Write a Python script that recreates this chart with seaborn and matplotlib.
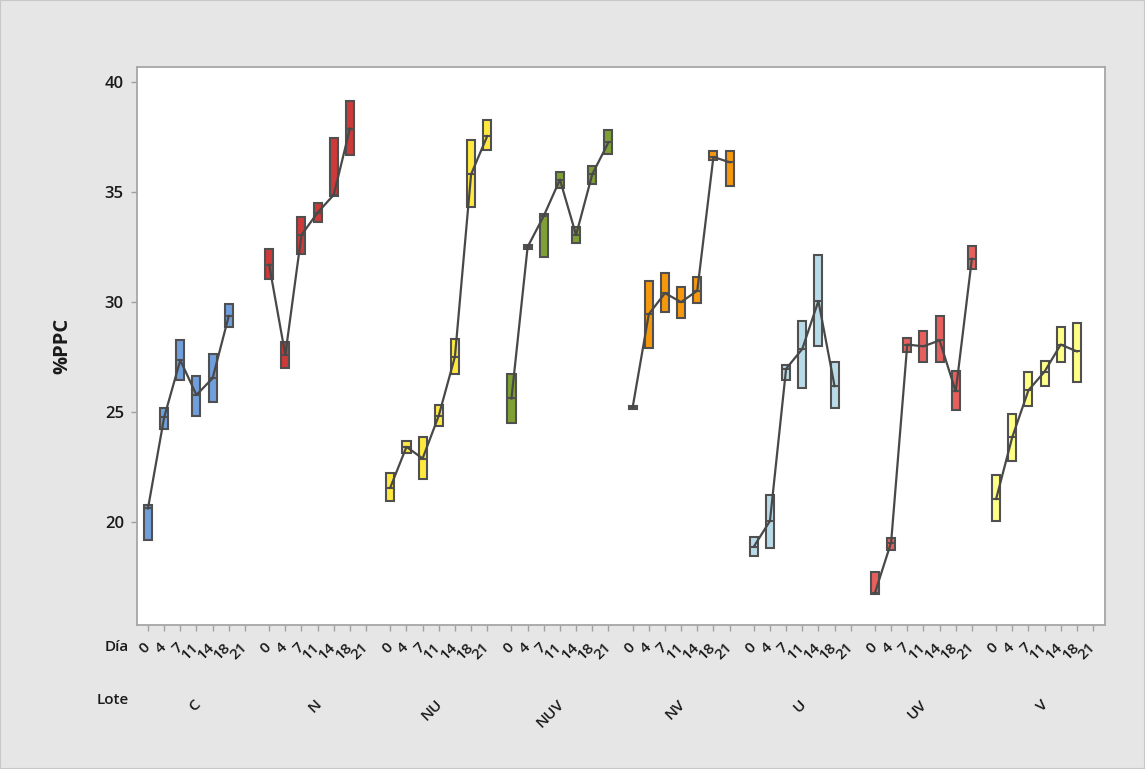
import matplotlib
matplotlib.use("Agg")
import matplotlib.pyplot as plt
import matplotlib.transforms as mtransforms
from matplotlib import font_manager
from matplotlib.patches import Rectangle
import pandas as pd
import seaborn as sns

# ---- data -------------------------------------------------------------
lotes = ["C", "N", "NU", "NUV", "NV", "U", "UV", "V"]
dias = [0, 4, 7, 11, 14, 18, 21]

# box bottom (Q1), median and box top (Q3) of %PPC for each day sampled
c_q1 = [19.16, 24.22, 26.44, 24.82, 25.45, 28.87]
c_med = [20.60, 24.74, 27.34, 25.76, 26.52, 29.35]
c_q3 = [20.76, 25.18, 28.24, 26.60, 27.61, 29.90]

n_q1 = [31.02, 26.98, 32.19, 33.63, 34.81, 36.69]
n_med = [31.68, 27.58, 33.03, 34.05, 34.86, 37.87]
n_q3 = [32.40, 28.18, 33.85, 34.48, 37.45, 39.14]

nu_q1 = [20.95, 23.11, 21.94, 24.37, 26.71, 34.29, 36.89]
nu_med = [21.55, 23.40, 22.87, 24.82, 27.50, 35.79, 37.53]
nu_q3 = [22.21, 23.66, 23.84, 25.29, 28.32, 37.34, 38.24]

nuv_q1 = [24.47, 32.41, 32.03, 35.19, 32.66, 35.36, 36.71]
nuv_med = [25.60, 32.49, 33.90, 35.55, 33.03, 35.79, 37.24]
nuv_q3 = [26.71, 32.57, 33.97, 35.90, 33.39, 36.18, 37.81]

nv_q1 = [25.10, 27.89, 29.51, 29.24, 29.95, 36.45, 35.27]
nv_med = [25.19, 29.43, 30.39, 29.98, 30.50, 36.58, 36.34]
nv_q3 = [25.27, 30.93, 31.29, 30.66, 31.13, 36.86, 36.86]

u_q1 = [18.42, 18.80, 26.44, 26.08, 27.97, 25.18]
u_med = [18.86, 20.03, 26.95, 27.85, 30.03, 26.16]
u_q3 = [19.32, 21.22, 27.14, 29.13, 32.11, 27.25]

uv_q1 = [16.73, 18.70, 27.70, 27.26, 27.26, 25.08, 31.49]
uv_med = [16.76, 19.05, 28.05, 27.97, 28.24, 25.92, 31.95]
uv_q3 = [17.71, 19.24, 28.34, 28.68, 29.35, 26.83, 32.51]

v_q1 = [20.05, 22.76, 25.26, 26.16, 27.26, 26.35]
v_med = [21.03, 23.84, 25.97, 26.82, 28.05, 27.74]
v_q3 = [22.10, 24.89, 26.79, 27.31, 28.84, 29.03]

colores = {
    "C": "#6F9FDC", "N": "#CC3A3A", "NU": "#FFE93F", "NUV": "#7FA035",
    "NV": "#F7980C", "U": "#B9DBE8", "UV": "#E8605E", "V": "#FFFF88",
}

estadisticos = {
    "C": (c_q1, c_med, c_q3), "N": (n_q1, n_med, n_q3),
    "NU": (nu_q1, nu_med, nu_q3), "NUV": (nuv_q1, nuv_med, nuv_q3),
    "NV": (nv_q1, nv_med, nv_q3), "U": (u_q1, u_med, u_q3),
    "UV": (uv_q1, uv_med, uv_q3), "V": (v_q1, v_med, v_q3),
}

# ---- long tables for seaborn -----------------------------------------
SEP = 7.5  # slot width of one lote on the shared x scale
filas, medianas = [], []
for g, lote in enumerate(lotes):
    q1s, meds, q3s = estadisticos[lote]
    for i, (a, m, b) in enumerate(zip(q1s, meds, q3s)):
        pos = g * SEP + i
        # five values whose quartiles are exactly (a, m, b)
        for val in (a, a, m, b, b):
            filas.append({"pos": pos, "lote": lote, "dia": dias[i], "ppc": val})
        medianas.append({"pos": pos, "lote": lote, "ppc": m})
df = pd.DataFrame(filas)
df_med = pd.DataFrame(medianas)


# ---- font: first normal-width sans family with a heavy face ------------
def find_face(fam, weight):
    try:
        path = font_manager.findfont(
            font_manager.FontProperties(family=fam, weight=weight),
            fallback_to_default=False)
    except Exception:
        return None
    low = path.lower()
    if "condensed" in low or "narrow" in low:
        return None
    return low


FAM, SEMI = "DejaVu Sans", "bold"
for fam in ["Noto Sans", "Open Sans", "Lato", "Roboto"]:
    p_semi = find_face(fam, "semibold")
    p_bold = find_face(fam, "bold")
    if p_semi and ("semibold" in p_semi or "medium" in p_semi):
        FAM, SEMI = fam, "semibold"
        break
    if p_bold and "bold" in p_bold:
        FAM, SEMI = fam, "bold"
        break
plt.rcParams["font.family"] = [FAM, "DejaVu Sans"]

# ---- figure -----------------------------------------------------------
W, H = 1145, 769
fig = plt.figure(figsize=(W / 100, H / 100), dpi=100, facecolor="#E6E6E6")

L, R, T, B = 137, 1105, 67, 625
ax = fig.add_axes([L / W, 1 - B / H, (R - L) / W, (B - T) / H])
ax.set_facecolor("white")

sns.boxplot(
    data=df, x="pos", y="ppc", hue="lote", palette=colores, hue_order=lotes,
    native_scale=True, dodge=False, width=0.5, whis=1.5, showcaps=False,
    showfliers=False, saturation=1, linewidth=1.5, linecolor="#505050",
    legend=False, ax=ax,
)
sns.lineplot(
    data=df_med, x="pos", y="ppc", units="lote", estimator=None,
    color="#484848", linewidth=1.6, ax=ax, zorder=6, legend=False,
)

ax.set_xlim(-0.68, 58.5 + 0.74)
ax.set_ylim(15.3, 40.67)

# day ticks for every lote slot
xt, xl = [], []
for g in range(len(lotes)):
    for i, d in enumerate(dias):
        xt.append(g * SEP + i)
        xl.append(str(d))
ax.set_xticks(xt)
ax.set_xticklabels(xl, rotation=45, ha="right", va="center",
                   rotation_mode="anchor", fontsize=11, weight=SEMI)
ax.tick_params(axis="x", length=4.5, width=1, color="#A0A0A0", pad=10,
               labelcolor="#1A1A1A")

ax.set_yticks([20, 25, 30, 35, 40])
ax.set_yticklabels(["20", "25", "30", "35", "40"], fontsize=12, weight=SEMI)
ax.tick_params(axis="y", length=4.5, width=1, color="#A0A0A0", pad=5,
               labelcolor="#1A1A1A")
ax.set_xlabel("")
ax.set_ylabel("")

for s in ax.spines.values():
    s.set_color("#A6A6A6")
    s.set_linewidth(1.3)

# lote names under the day labels
trans = mtransforms.blended_transform_factory(ax.transData, fig.transFigure)
for g, lote in enumerate(lotes):
    ax.text(g * SEP + 3 + 0.1, 1 - 702 / H, lote, transform=trans, rotation=45,
            ha="right", va="center", rotation_mode="anchor", fontsize=11,
            weight=SEMI, color="#1A1A1A")

fig.text(129 / W, 1 - 647 / H, "Día", ha="right", va="center", fontsize=11,
         weight=SEMI, color="#1A1A1A")
fig.text(129 / W, 1 - 700 / H, "Lote", ha="right", va="center", fontsize=11,
         weight=SEMI, color="#1A1A1A")
fig.text(62 / W, 1 - 346 / H, "%PPC", rotation=90, ha="center", va="center",
         fontsize=14.5, weight="bold", color="#1A1A1A")

fig.add_artist(Rectangle((0, 0), 1, 1, transform=fig.transFigure, fill=False,
                         edgecolor="#C8C8C8", linewidth=1.5))

fig.savefig("out.png", dpi=100, facecolor=fig.get_facecolor())
